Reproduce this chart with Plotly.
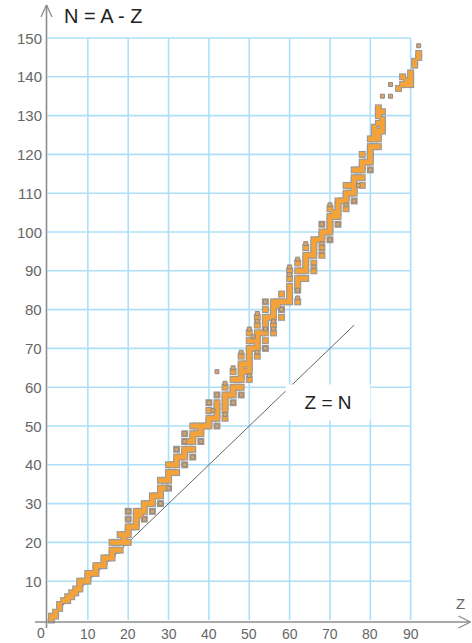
import plotly.graph_objects as go

# ---------------- data ----------------
# stable / naturally occurring nuclides (orange)
orange_Z = [1, 1, 2, 2, 3, 3, 4, 5, 5, 6, 6, 7, 7, 8, 8, 8, 9, 10, 10, 10, 11, 12, 12, 12, 13,
            14, 14, 14, 15, 16, 16, 16, 16, 17, 17, 18, 18, 18, 19, 19, 19,
            20, 20, 20, 20, 20, 20, 21, 22, 22, 22, 22, 22, 23, 23, 24, 24, 24, 24, 25,
            26, 26, 26, 26, 27, 28, 28, 28, 28, 28, 29, 29, 30, 30, 30, 30, 30, 31, 31,
            32, 32, 32, 32, 32, 33, 34, 34, 34, 34, 34, 34, 35, 35, 36, 36, 36, 36, 36, 36,
            37, 37, 38, 38, 38, 38, 39, 40, 40, 40, 40, 40, 41, 42, 42, 42, 42, 42, 42, 42,
            44, 44, 44, 44, 44, 44, 44, 45, 46, 46, 46, 46, 46, 46, 47, 47,
            48, 48, 48, 48, 48, 48, 48, 48, 49, 49,
            50, 50, 50, 50, 50, 50, 50, 50, 50, 50, 51, 51,
            52, 52, 52, 52, 52, 52, 52, 52, 53,
            54, 54, 54, 54, 54, 54, 54, 54, 54, 55,
            56, 56, 56, 56, 56, 56, 56, 57, 57, 58, 58, 58, 58, 59,
            60, 60, 60, 60, 60, 60, 60, 62, 62, 62, 62, 62, 62, 62, 63, 63,
            64, 64, 64, 64, 64, 64, 64, 65, 66, 66, 66, 66, 66, 66, 66, 67,
            68, 68, 68, 68, 68, 68, 69, 70, 70, 70, 70, 70, 70, 70, 71, 71,
            72, 72, 72, 72, 72, 72, 73, 74, 74, 74, 74, 74, 75, 75,
            76, 76, 76, 76, 76, 76, 76, 77, 77, 78, 78, 78, 78, 78, 78, 79,
            80, 80, 80, 80, 80, 80, 80, 81, 81, 81, 81, 81,
            82, 82, 82, 82, 82, 82, 82, 82, 83, 83, 83, 83, 83,
            87, 88, 88, 89, 89, 90, 90, 90, 90, 91, 91, 92, 92]
orange_N = [0, 1, 1, 2, 3, 4, 5, 5, 6, 6, 7, 7, 8, 8, 9, 10, 10, 10, 11, 12, 12, 12, 13, 14, 14,
            14, 15, 16, 16, 16, 17, 18, 20, 18, 20, 18, 20, 22, 20, 21, 22,
            20, 22, 23, 24, 26, 28, 24, 24, 25, 26, 27, 28, 27, 28, 26, 28, 29, 30, 30,
            28, 30, 31, 32, 32, 30, 32, 33, 34, 36, 34, 36, 34, 36, 37, 38, 40, 38, 40,
            38, 40, 41, 42, 44, 42, 40, 42, 43, 44, 46, 48, 44, 46, 42, 44, 46, 47, 48, 50,
            48, 50, 46, 48, 49, 50, 50, 50, 51, 52, 54, 56, 52, 50, 52, 53, 54, 55, 56, 58,
            52, 54, 55, 56, 57, 58, 60, 58, 56, 58, 59, 60, 62, 64, 60, 62,
            58, 60, 62, 63, 64, 65, 66, 68, 64, 66,
            62, 64, 65, 66, 67, 68, 69, 70, 72, 74, 70, 72,
            68, 70, 71, 72, 73, 74, 76, 78, 74,
            70, 72, 74, 75, 76, 77, 78, 80, 82, 78,
            74, 76, 78, 79, 80, 81, 82, 81, 82, 78, 80, 82, 84, 82,
            82, 83, 84, 85, 86, 88, 90, 82, 85, 86, 87, 88, 90, 92, 88, 90,
            90, 91, 92, 93, 94, 96, 88, 94, 90, 92, 94, 95, 96, 97, 98, 98,
            94, 96, 98, 99, 100, 102, 100, 98, 100, 101, 102, 103, 104, 106, 104, 105,
            102, 104, 105, 106, 107, 108, 108, 106, 108, 109, 110, 112, 110, 112,
            108, 110, 111, 112, 113, 114, 116, 114, 116, 112, 114, 116, 117, 118, 120, 118,
            116, 118, 119, 120, 121, 122, 124, 122, 124, 125, 126, 127,
            122, 124, 125, 126, 128, 130, 131, 132, 126, 127, 128, 129, 131,
            137, 138, 140, 138, 139, 138, 139, 140, 141, 143, 144, 145, 146]

# long-lived radioactive nuclides (small grey squares)
grey_Z = [20, 20, 24, 26, 28, 30, 32, 34, 34, 36, 38, 34, 40, 42, 41, 44, 42, 46, 48, 44,
          42, 50, 46, 48, 52, 54, 51, 54, 50, 56, 52, 56, 52, 58, 54, 62, 62, 60, 62, 66,
          60, 68, 68, 64, 70, 68, 72, 74, 70, 76, 77, 80, 83, 85, 85, 92]
grey_N = [28, 26, 26, 28, 30, 34, 44, 40, 48, 42, 46, 46, 56, 50, 54, 53, 58, 56, 58, 61,
          64, 63, 65, 69, 69, 70, 73, 75, 75, 75, 77, 77, 79, 80, 82, 83, 85, 89, 93, 91,
          91, 95, 97, 97, 98, 102, 102, 107, 107, 108, 112, 116, 135, 135, 138, 148]

x_ticks = [10, 20, 30, 40, 50, 60, 70, 80, 90]
y_ticks = [10, 20, 30, 40, 50, 60, 70, 80, 90, 100, 110, 120, 130, 140, 150]
zn_line_end = 76

# ---------------- geometry (pixel calibration) ----------------
W, H = 472, 643
X0PX, SX = 47.5, 4.035
Y0PX, SY = 620.0, 3.88
xr = [-X0PX / SX, (W - X0PX) / SX]
yr = [-(H - Y0PX) / SY, Y0PX / SY]


def ux(px):
    return px / SX


def uy(px):
    return px / SY


GRID = "#ade0f8"
AXIS = "#8c8c8c"
LBL = "#666666"
FONT = "Liberation Sans, Arial, sans-serif"

fig = go.Figure()

shapes = []
# grid
for xv in x_ticks:
    shapes.append(dict(type="line", x0=xv, x1=xv, y0=0, y1=max(y_ticks),
                       line=dict(color=GRID, width=1.6), layer="below"))
for yv in y_ticks:
    shapes.append(dict(type="line", x0=0, x1=max(x_ticks), y0=yv, y1=yv,
                       line=dict(color=GRID, width=1.6), layer="below"))

# Z = N line
shapes.append(dict(type="line", x0=0, y0=0, x1=zn_line_end, y1=zn_line_end,
                   line=dict(color="#666666", width=1), layer="below"))

# axes
yax_x = -ux(1.0)
xax_y = -uy(2.0)
shapes.append(dict(type="line", x0=yax_x, x1=yax_x, y0=-uy(8), y1=yr[1] - uy(5),
                   line=dict(color=AXIS, width=1.6)))
shapes.append(dict(type="line", x0=-ux(12.5), x1=xr[1] - ux(1.5), y0=xax_y, y1=xax_y,
                   line=dict(color=AXIS, width=1.6)))
# arrow heads (open chevrons)
ty = yr[1] - uy(5)
for s in (-1, 1):
    shapes.append(dict(type="line", x0=yax_x, y0=ty, x1=yax_x + s * ux(5.5), y1=ty - uy(12),
                       line=dict(color=AXIS, width=1.3)))
tx = xr[1] - ux(1.5)
for s in (-1, 1):
    shapes.append(dict(type="line", x0=tx, y0=xax_y, x1=tx - ux(12), y1=xax_y + s * uy(6),
                       line=dict(color=AXIS, width=1.3)))

# nuclide traces: grey outline layer, orange fill layer, grey long-lived squares
fig.add_trace(go.Scatter(x=orange_Z, y=orange_N, mode="markers", hoverinfo="skip",
                         marker=dict(symbol="square", size=7.0, color="#999999", line=dict(width=0))))
fig.add_trace(go.Scatter(x=orange_Z, y=orange_N, mode="markers", name="stable",
                         marker=dict(symbol="square", size=4.8, color="#f4a23a", line=dict(width=0))))
fig.add_trace(go.Scatter(x=grey_Z, y=grey_N, mode="markers", name="radioactive",
                         marker=dict(symbol="square", size=4.0, color="#d9a466",
                                     line=dict(color="#8a8a8a", width=1))))

ann = []
for xv in x_ticks:
    ann.append(dict(x=xv, y=-uy(13.5), text=str(xv), showarrow=False, xanchor="center",
                    yanchor="middle", font=dict(size=14, color=LBL, family=FONT)))
ann.append(dict(x=-ux(6.5), y=-uy(12.5), text="0", showarrow=False, xanchor="center",
                yanchor="middle", font=dict(size=14, color=LBL, family=FONT)))
for yv in y_ticks:
    ann.append(dict(x=-ux(3.5), y=yv, text=str(yv), showarrow=False, xanchor="right",
                    yanchor="middle", font=dict(size=15, color=LBL, family=FONT)))
ann.append(dict(x=xr[1] - ux(12), y=uy(17), text="Z", showarrow=False, xanchor="center",
                yanchor="middle", font=dict(size=15, color=LBL, family=FONT)))
ann.append(dict(x=ux(62 - X0PX), y=yr[1] - uy(16), text="N = A - Z", showarrow=False,
                xanchor="left", yanchor="middle", font=dict(size=20, color="#222222", family=FONT)))
ann.append(dict(x=ux(328 - X0PX), y=uy(Y0PX - 402), text="Z = N", showarrow=False,
                xanchor="center", yanchor="middle", bgcolor="white", borderpad=7,
                width=70, font=dict(size=19, color="#222222", family=FONT)))

fig.update_layout(
    width=W, height=H, margin=dict(l=0, r=0, t=0, b=0),
    paper_bgcolor="white", plot_bgcolor="white", showlegend=False,
    xaxis=dict(range=xr, visible=False, fixedrange=True),
    yaxis=dict(range=yr, visible=False, fixedrange=True),
    shapes=shapes, annotations=ann,
)

fig.write_html("out.html", config={"displayModeBar": False},
               post_script="document.body.style.margin='0';document.body.style.overflow='hidden';")
